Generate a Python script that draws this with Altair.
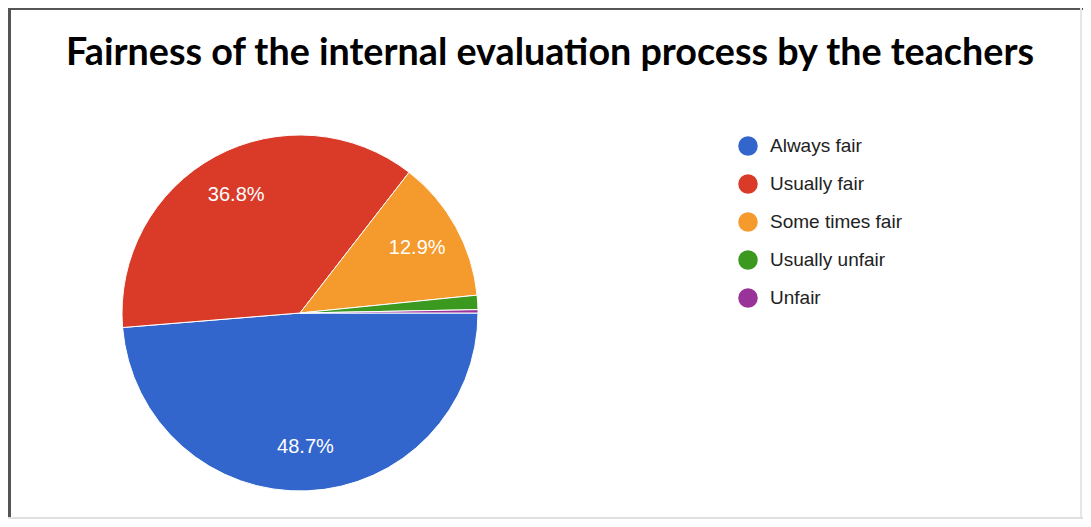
import math
import altair as alt
import pandas as pd

title_text = "Fairness of the internal evaluation process by the teachers"
categories = ["Always fair", "Usually fair", "Some times fair", "Usually unfair", "Unfair"]
values = [48.7, 36.8, 12.9, 1.3, 0.3]
colors = ["#3366CC", "#DA3B29", "#F59A2C", "#3B991F", "#993399"]

df = pd.DataFrame({
    "category": categories,
    "value": values,
    "order": list(range(len(categories))),
    "label": [f"{v}%" if v >= 5 else "" for v in values],
})

W, H = 1075, 511
CX, CY, R = 292, 305, 178

theta = alt.Theta("value:Q", stack=True,
                  scale=alt.Scale(range=[math.pi / 2, math.pi / 2 + 2 * math.pi]))
order = alt.Order("order:Q", sort="ascending")

base = alt.Chart(df)

arcs = base.mark_arc(stroke="white", strokeWidth=1).encode(
    theta=theta,
    order=order,
    x=alt.value(CX),
    y=alt.value(CY),
    radius=alt.value(R),
    color=alt.Color(
        "category:N",
        scale=alt.Scale(domain=categories, range=colors),
        sort=categories,
        legend=alt.Legend(
            title=None,
            orient="none",
            legendX=730,
            legendY=128,
            symbolType="circle",
            symbolSize=380,
            symbolStrokeWidth=0,
            labelFont="Liberation Sans",
            labelFontSize=19,
            labelColor="#222222",
            labelOffset=12,
            rowPadding=18,
        ),
    ),
)

labels = base.mark_text(font="Liberation Sans", fontSize=20, color="white").encode(
    theta=theta,
    order=order,
    x=alt.value(CX),
    y=alt.value(CY),
    radius=alt.value(134),
    text="label:N",
)

title = alt.Chart(pd.DataFrame({"t": [title_text]})).mark_text(
    font="Lato", fontSize=37.7, fontWeight="bold", color="#000000",
    align="center", baseline="alphabetic",
).encode(x=alt.value(542), y=alt.value(57), text="t:N")

left = base.mark_rule(color="#555555", strokeWidth=3).encode(
    x=alt.value(1.5), y=alt.value(0), y2=alt.value(H))
top = base.mark_rule(color="#555555", strokeWidth=2).encode(
    x=alt.value(0), x2=alt.value(W), y=alt.value(0.5))
right = base.mark_rule(color="#e6e6e6", strokeWidth=2).encode(
    x=alt.value(W - 2), y=alt.value(0), y2=alt.value(H))
bottom = base.mark_rule(color="#e0e0e0", strokeWidth=2).encode(
    x=alt.value(0), x2=alt.value(W), y=alt.value(H - 1))

chart = alt.layer(arcs, labels, title, left, top, right, bottom).properties(
    width=W,
    height=H,
    autosize=alt.AutoSizeParams(type="none"),
    padding=0,
).configure_view(stroke=None)

chart.save("out.html", embed_options={"renderer": "svg", "actions": False})
